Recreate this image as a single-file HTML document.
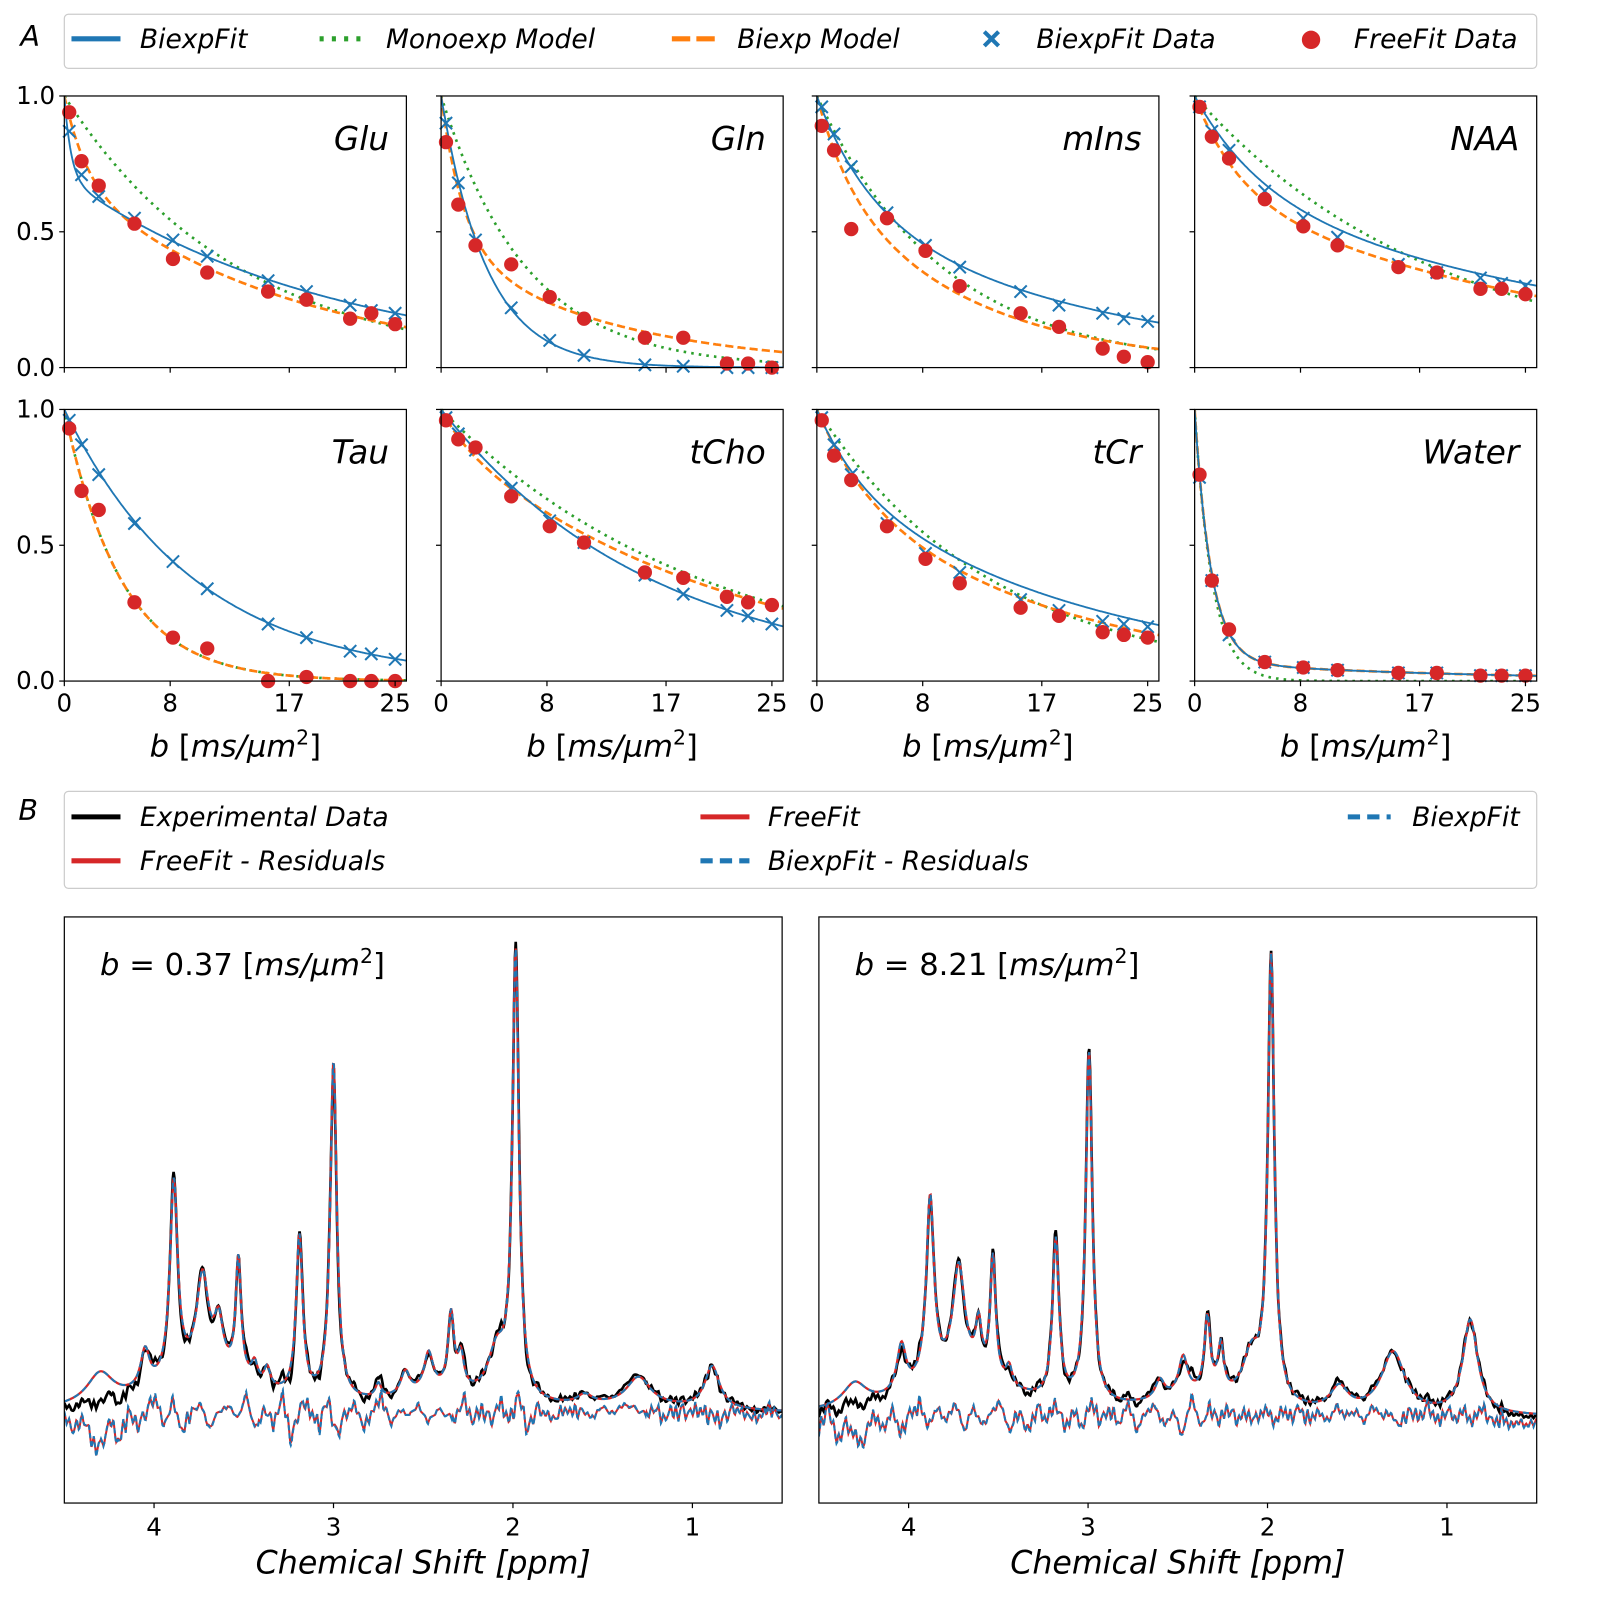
<!DOCTYPE html>
<html><head><meta charset="utf-8"><style>
html,body{margin:0;padding:0;background:#fff;}
svg{display:block;font-family:"DejaVu Sans","Liberation Sans",sans-serif;}
.it{font-style:italic;}
</style></head><body>
<svg id="fig" width="1600" height="1598" viewBox="0 0 1567 1565" preserveAspectRatio="none" xmlns="http://www.w3.org/2000/svg">
<rect x="0" y="0" width="1567" height="1565" fill="#fff"/>
<text x="20" y="45" font-size="28" class="it">A</text>
<g>
<rect x="63" y="14" width="1442" height="53" rx="4" fill="#fff" stroke="#ccc" stroke-width="1.2"/>
<line x1="70" y1="38" x2="118" y2="38" stroke="#1f77b4" stroke-width="5"/>
<text x="137" y="47" font-size="26" class="it">BiexpFit</text>
<line x1="313" y1="38" x2="358" y2="38" stroke="#2ca02c" stroke-width="5" stroke-dasharray="4,8"/>
<text x="378" y="47" font-size="26" class="it">Monoexp Model</text>
<line x1="658" y1="38" x2="700" y2="38" stroke="#ff7f0e" stroke-width="5" stroke-dasharray="18,6"/>
<text x="722" y="47" font-size="26" class="it">Biexp Model</text>
<path d="M964,31 l14,14 M978,31 l-14,14" stroke="#1f77b4" stroke-width="4"/>
<text x="1015" y="47" font-size="26" class="it">BiexpFit Data</text>
<circle cx="1284" cy="39" r="9" fill="#d62728"/>
<text x="1326" y="47" font-size="26" class="it">FreeFit Data</text>
</g>
<text x="18" y="803" font-size="28" class="it">B</text>
<g>
<rect x="63" y="775" width="1442" height="95" rx="4" fill="#fff" stroke="#ccc" stroke-width="1.2"/>
<line x1="70" y1="800" x2="118" y2="800" stroke="#000" stroke-width="5"/>
<text x="137" y="809" font-size="26" class="it">Experimental Data</text>
<line x1="686" y1="800" x2="734" y2="800" stroke="#d62728" stroke-width="5"/>
<text x="752" y="809" font-size="26" class="it">FreeFit</text>
<line x1="1320" y1="800" x2="1362" y2="800" stroke="#1f77b4" stroke-width="5" stroke-dasharray="12,7"/>
<text x="1383" y="809" font-size="26" class="it">BiexpFit</text>
<line x1="70" y1="843" x2="118" y2="843" stroke="#d62728" stroke-width="5"/>
<text x="137" y="852" font-size="26" class="it">FreeFit - Residuals</text>
<line x1="686" y1="843" x2="734" y2="843" stroke="#1f77b4" stroke-width="5" stroke-dasharray="12,7"/>
<text x="752" y="852" font-size="26" class="it">BiexpFit - Residuals</text>
</g>
<g id="plots"></g>
</svg>
<script>
// ===== Panel A data =====
const metabolites = ["Glu","Gln","mIns","NAA","Tau","tCho","tCr","Water"];
const bValues = [0.37,1.3,2.6,5.3,8.21,10.8,15.4,18.3,21.6,23.2,25.0];
const freeFitData = [
 [0.94,0.76,0.67,0.53,0.40,0.35,0.28,0.25,0.18,0.20,0.16],
 [0.83,0.60,0.45,0.38,0.26,0.18,0.11,0.11,0.015,0.015,0.0],
 [0.89,0.80,0.51,0.55,0.43,0.30,0.20,0.15,0.07,0.04,0.02],
 [0.96,0.85,0.77,0.62,0.52,0.45,0.37,0.35,0.29,0.29,0.27],
 [0.93,0.70,0.63,0.29,0.16,0.12,0.0,0.015,0.0,0.0,0.0],
 [0.96,0.89,0.86,0.68,0.57,0.51,0.40,0.38,0.31,0.29,0.28],
 [0.96,0.83,0.74,0.57,0.45,0.36,0.27,0.24,0.18,0.17,0.16],
 [0.76,0.37,0.19,0.07,0.05,0.04,0.03,0.03,0.02,0.02,0.02]];
const biexpFitData = [
 [0.87,0.71,0.63,0.55,0.47,0.41,0.32,0.28,0.23,0.21,0.20],
 [0.90,0.68,0.47,0.22,0.10,0.045,0.01,0.005,0.0,0.0,0.0],
 [0.96,0.86,0.74,0.57,0.45,0.37,0.28,0.23,0.20,0.18,0.17],
 [0.96,0.87,0.80,0.65,0.55,0.48,0.38,0.35,0.33,0.31,0.30],
 [0.96,0.87,0.76,0.58,0.44,0.34,0.21,0.16,0.11,0.10,0.08],
 [0.97,0.91,0.85,0.71,0.59,0.51,0.39,0.32,0.26,0.24,0.21],
 [0.97,0.87,0.76,0.58,0.47,0.40,0.30,0.26,0.22,0.21,0.20],
 [0.75,0.37,0.17,0.07,0.05,0.04,0.03,0.03,0.02,0.02,0.02]];
// biexp params: [fastFraction, Dfast, Dslow]
const biexpFitParams = [[0.3,2.0,0.05],[1,0.29,0.29],[0.4,0.25,0.05],[0.35,0.2,0.03],[1,0.1,0.1],[1,0.062,0.062],[0.25,0.3,0.05],[0.93,0.8,0.05]];
const biexpModelParams = [[0.3,0.6,0.06],[0.55,0.6,0.08],[0.3,0.4,0.09],[0.35,0.3,0.035],[1,0.23,0.23],[0.1,0.5,0.047],[0.3,0.25,0.055],[0.93,0.8,0.05]];
const monoexpD = [0.076,0.155,0.105,0.055,0.23,0.05,0.075,0.75];
const xTicksA = [0,8,17,25];
const yTicksA = [0,0.5,1.0];

// ===== Panel B data =====
const spectrumLabels = ["b = 0.37","b = 8.21"];
// peaks: [ppm, height, halfwidth]
const peaksLeft = [[4.05,0.08,0.03],[3.89,0.42,0.026],[3.73,0.2,0.04],[3.64,0.1,0.03],[3.53,0.25,0.018],[3.44,0.04,0.02],[3.37,0.04,0.02],[3.19,0.34,0.022],[3.0,0.72,0.022],[2.75,0.03,0.02],[2.6,0.05,0.03],[2.47,0.08,0.03],[2.345,0.16,0.02],[2.29,0.07,0.02],[2.09,0.1,0.06],[1.985,0.945,0.022],[1.6,0.02,0.05],[1.3,0.06,0.08],[0.89,0.09,0.05],[3.7,0.08,0.35],[2.4,0.035,0.3],[1.3,0.012,0.5]];
const peaksRight = [[4.04,0.1,0.03],[3.88,0.39,0.026],[3.72,0.23,0.04],[3.61,0.1,0.02],[3.53,0.26,0.018],[3.44,0.04,0.02],[3.18,0.34,0.022],[2.995,0.75,0.022],[2.6,0.04,0.03],[2.47,0.08,0.03],[2.335,0.16,0.02],[2.26,0.1,0.02],[2.09,0.1,0.06],[1.98,0.945,0.022],[1.6,0.05,0.06],[1.3,0.13,0.08],[0.87,0.2,0.05],[3.7,0.08,0.35],[2.4,0.035,0.3]];
const fitExtraLeft = [[4.3,0.065,0.09]];
const fitExtraRight = [[4.3,0.05,0.08]];
const noiseLeft = [1,-2,2,-1,0,3,-3,2,-1,1,4,-2,3,-4,1,2,-3,0,2,-1,4,-3,1,-2,3,-5,2,1,-2,3,-4,0,2,-3,1,3,-2,1,-1,2,-2,1,0,-1,3,-2,1,-1,2,-1,4,-3,1,0,-1,1,0,1,-1,1,0,1,2,1,0,1,-1,0,1,0,1,0,-1,0,1,0,-1,0,1,-1];
const noiseRight = [-2,3,-3,2,1,-2,3,-2,2,-3,1,3,-2,2,-1,3,-3,2,-2,1,3,-2,1,-3,2,-1,3,-2,1,-2,3,-1,2,-2,3,-3,1,2,-2,1,-4,4,-1,2,-1,2,-1,1,-1,2,-1,1,0,2,-1,1,-1,2,0,1,-1,2,0,1,-1,1,0,2,-1,1,0,1,-1,2,-1,0,-2,-1,-2,-1];
const xTicksB = [4,3,2,1];

const NS="http://www.w3.org/2000/svg";
const root=document.getElementById('plots');
function mk(tag,attrs,parent){const e=document.createElementNS(NS,tag);for(const k in attrs)e.setAttribute(k,attrs[k]);(parent||root).appendChild(e);return e;}

// ===== Panel A drawing =====
const colX=[63,432,800,1170], rowY=[94,401], PW=335, PH=266, BMAX=25.85;
function biexp(p,b){return p[0]*Math.exp(-b*p[1])+(1-p[0])*Math.exp(-b*p[2]);}
metabolites.forEach((m,i)=>{
  const r=Math.floor(i/4), c=i%4, x0=colX[c], y0=rowY[r];
  const sx=b=>x0+b/BMAX*PW, sy=v=>y0+PH-v*PH;
  const g=mk('g',{});
  
  
  const cid='clip'+i;
  const cp=mk('clipPath',{id:cid},g); mk('rect',{x:x0,y:y0-8,width:PW,height:PH+8},cp);
  function curve(fn,color,dash,w,name){
    let d='';for(let k=0;k<=300;k++){const b=k/300*BMAX;d+=(k?'L':'M')+sx(b).toFixed(1)+','+sy(fn(b)).toFixed(1);}
    const p=mk('path',{d:d,fill:'none',stroke:color,'stroke-width':w,'stroke-dasharray':dash,'clip-path':'url(#'+cid+')'},g);
    
    
  }
  curve(b=>Math.exp(-monoexpD[i]*b),'#2ca02c','2.5,5',2.6,'monoexp-model-curve');
  curve(b=>biexp(biexpModelParams[i],b),'#ff7f0e','8,4',2.6,'biexp-model-curve');
  curve(b=>biexp(biexpFitParams[i],b),'#1f77b4','none',1.8,'biexpfit-curve');
  bValues.forEach((b,k)=>{
    const cx=sx(b), cy=sy(biexpFitData[i][k]);
    const xm=mk('path',{d:`M${cx-6},${cy-6}L${cx+6},${cy+6}M${cx+6},${cy-6}L${cx-6},${cy+6}`,stroke:'#1f77b4','stroke-width':2,fill:'none'},g);
    
    
  });
  bValues.forEach((b,k)=>{
    const ci=mk('circle',{cx:sx(b),cy:sy(freeFitData[i][k]),r:7,fill:'#d62728'},g);
    
    
  });
  const fr=mk('rect',{x:x0,y:y0,width:PW,height:PH,fill:'none',stroke:'#000','stroke-width':1.2},g);
  
  
  const tt=mk('text',{x:x0+PW-17,y:y0+53,'font-size':32,'text-anchor':'end','font-style':'italic'},g);
  tt.textContent=m;
  
  
  yTicksA.forEach(v=>{
    mk('line',{x1:x0-5,y1:sy(v),x2:x0,y2:sy(v),stroke:'#000','stroke-width':1.2},g);
    if(c===0){const t=mk('text',{x:x0-9,y:sy(v)+8,'font-size':24,'text-anchor':'end'},g);t.textContent=v.toFixed(1);
      
      }
  });
  xTicksA.forEach(v=>{
    mk('line',{x1:sx(v),y1:y0+PH,x2:sx(v),y2:y0+PH+5,stroke:'#000','stroke-width':1.2},g);
    if(r===1){const t=mk('text',{x:sx(v),y:y0+PH+30,'font-size':24,'text-anchor':'middle'},g);t.textContent=v;
      
      }
  });
  if(r===1){const t=mk('text',{x:x0+PW/2,y:741,'font-size':30,'text-anchor':'middle'},g);
    t.innerHTML='<tspan font-style="italic">b</tspan> [<tspan font-style="italic">ms/μm</tspan><tspan baseline-shift="super" font-size="20">2</tspan>]';
    
    }
});

// ===== Panel B drawing =====
const specX=[63,802], SW=703, SY0=898, SH=574;
function lor(peaks,x){let s=0;for(const p of peaks){const u=(x-p[0])/p[2];s+=p[1]/(1+u*u);}return s;}
function noiseAt(arr,ppm){const t=Math.max(0,Math.min(1,(4.5-ppm)/4))*(arr.length-1);const k=Math.min(arr.length-2,Math.floor(t));const f=t-k;return (arr[k]*(1-f)+arr[k+1]*f)*0.01;}
function noiseFine(arr,ppm){const q=4.5-(((4.5-ppm)*3.7)%4);return noiseAt(arr,ppm)+0.55*noiseAt(arr,q);}
[[peaksLeft,fitExtraLeft,noiseLeft,1385],[peaksRight,fitExtraRight,noiseRight,1388]].forEach((cfg,j)=>{
  const [pk,ex,nz,base]=cfg, x0=specX[j];
  const sx=p=>x0+(4.5-p)/4*SW, sy=v=>base-v*460;
  const g=mk('g',{});
  
  
  const cid='sclip'+j;
  const cp=mk('clipPath',{id:cid},g); mk('rect',{x:x0,y:SY0,width:SW,height:SH},cp);
  const N=900;
  function line(fn,color,dash,w,name){
    let d='';for(let k=0;k<=N;k++){const p=4.5-k/N*4;d+=(k?'L':'M')+sx(p).toFixed(1)+','+sy(fn(p)).toFixed(1);}
    const e=mk('path',{d:d,fill:'none',stroke:color,'stroke-width':w,'stroke-dasharray':dash,'clip-path':'url(#'+cid+')'},g);
    
    
  }
  line(p=>lor(pk,p)+noiseFine(nz,p)*0.5,'#000','none',2.6,'experimental-data-line');
  line(p=>lor(pk,p)+lor(ex,p),'#d62728','none',2.2,'freefit-line');
  line(p=>lor(pk,p)+lor(ex,p),'#1f77b4','6,4',2,'biexpfit-line');
  line(p=>noiseFine(nz,p)-lor(ex,p),'#d62728','none',2,'freefit-residual-line');
  line(p=>noiseFine(nz,p)*1.1-lor(ex,p),'#1f77b4','5,3',2,'biexpfit-residual-line');
  const fr=mk('rect',{x:x0,y:SY0,width:SW,height:SH,fill:'none',stroke:'#000','stroke-width':1.2},g);
  
  
  xTicksB.forEach(v=>{
    mk('line',{x1:sx(v),y1:SY0+SH,x2:sx(v),y2:SY0+SH+5,stroke:'#000','stroke-width':1.2},g);
    const t=mk('text',{x:sx(v),y:SY0+SH+32,'font-size':24,'text-anchor':'middle'},g);t.textContent=v;
    
    
  });
  const xt=mk('text',{x:x0+SW/2,y:1541,'font-size':31,'text-anchor':'middle','font-style':'italic'},g);
  xt.textContent='Chemical Shift [ppm]';
  
  
  const an=mk('text',{x:x0+35,y:955,'font-size':30},g);
  an.innerHTML='<tspan font-style="italic">b</tspan> = '+spectrumLabels[j].slice(4)+' [<tspan font-style="italic">ms/μm</tspan><tspan baseline-shift="super" font-size="20">2</tspan>]';
  
  
});
</script>
</body></html>
